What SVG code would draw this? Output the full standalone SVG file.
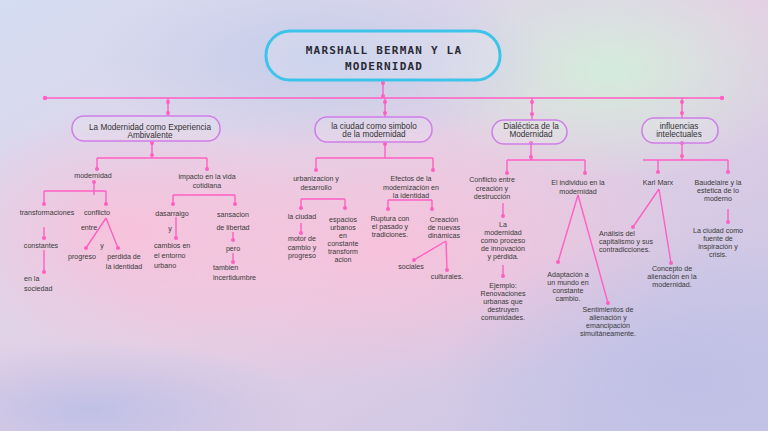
<svg xmlns="http://www.w3.org/2000/svg" width="768" height="431" viewBox="0 0 768 431">
<defs>
<linearGradient id="bg" x1="0" y1="0" x2="1" y2="1">
<stop offset="0" stop-color="#d4ddf2"/>
<stop offset="0.5" stop-color="#e4cfe4"/>
<stop offset="1" stop-color="#c3c4e6"/>
</linearGradient>
<radialGradient id="pink1" cx="0.5" cy="0.5" r="0.5">
<stop offset="0" stop-color="#f8c1db" stop-opacity="0.95"/>
<stop offset="1" stop-color="#f8c1db" stop-opacity="0"/>
</radialGradient>
<radialGradient id="mint" cx="0.5" cy="0.5" r="0.5">
<stop offset="0" stop-color="#d4ecdc" stop-opacity="1"/>
<stop offset="1" stop-color="#d4ecdc" stop-opacity="0"/>
</radialGradient>
<radialGradient id="blue" cx="0.5" cy="0.5" r="0.5">
<stop offset="0" stop-color="#c4cdea" stop-opacity="1"/>
<stop offset="1" stop-color="#c4cdea" stop-opacity="0"/>
</radialGradient>
<radialGradient id="lav" cx="0.5" cy="0.5" r="0.5">
<stop offset="0" stop-color="#bfc0e6" stop-opacity="1"/>
<stop offset="1" stop-color="#bfc0e6" stop-opacity="0"/>
</radialGradient>
<style>
.c{fill:none;stroke:#ff5fc2;stroke-width:1.4}
.d{fill:#ff5fc2}
.t{font-family:"Liberation Sans",Arial,sans-serif;font-size:7.1px;fill:#3a3a3a;text-anchor:middle}
.l{text-anchor:start}
.bt{font-family:"Liberation Sans",Arial,sans-serif;font-size:8.2px;fill:#333;text-anchor:middle}
.box{fill:#ffffff;fill-opacity:0.12;stroke:#cf7de8;stroke-width:1.5}
.title{font-family:"DejaVu Sans Mono",monospace;font-weight:bold;font-size:11px;letter-spacing:1.2px;fill:#2a2a35;text-anchor:middle}
</style>
</defs>
<rect width="768" height="431" fill="url(#bg)"/>
<ellipse cx="380" cy="250" rx="330" ry="140" fill="url(#pink1)"/>
<ellipse cx="130" cy="230" rx="200" ry="120" fill="url(#pink1)"/>
<ellipse cx="610" cy="70" rx="200" ry="110" fill="url(#mint)"/>
<ellipse cx="320" cy="60" rx="230" ry="90" fill="url(#blue)"/>
<ellipse cx="690" cy="380" rx="250" ry="150" fill="url(#lav)"/>
<ellipse cx="90" cy="410" rx="220" ry="70" fill="url(#lav)"/>

<g id="connectors">
<path class="c" d="M383,80V98M45,98H722M168,98V116M385,98V117M532,98V120M682,98V118"/>
<path class="c" d="M152,141V158M97,158H207M97,158V169M207,158V169M94,182V195M44,191H106M44,191V204M106,191V204M44,227V238M44,250V272M106,218L86,248M106,218L118,248M173,195H235M173,195V204M235,195V204M176,217V238M233,232V240M233,253V262"/>
<path class="c" d="M385,142V158M316,158H433M316,158V170M433,158V170M301,199H345M301,199V208M345,199V208M301,223V233M388,200H432M388,200V209M432,200V209M446,241L414,260M446,241L447,270"/>
<path class="c" d="M531,144V160M507,160H585M507,160V173M585,160V173M503,203V216M503,265V276M578,195L558,262M578,195L608,303"/>
<path class="c" d="M682,143V160M643,160H728M658,160V172M728,160V172M659,189L633,227M659,189L671,263M728,209V222"/>
<g class="d">
<circle cx="383" cy="83" r="2"/><circle cx="383" cy="96" r="2"/><circle cx="45" cy="98" r="2.2"/><circle cx="722" cy="98" r="2.2"/>
<circle cx="168" cy="102" r="2"/><circle cx="168" cy="113" r="2"/><circle cx="385" cy="102" r="2"/><circle cx="385" cy="113" r="2"/>
<circle cx="532" cy="102" r="2"/><circle cx="532" cy="114" r="2"/><circle cx="682" cy="102" r="2"/><circle cx="682" cy="113" r="2"/>
<circle cx="152" cy="143" r="2"/><circle cx="152" cy="155" r="2"/><circle cx="97" cy="169" r="2"/><circle cx="207" cy="169" r="2"/>
<circle cx="94" cy="182" r="2"/><circle cx="44" cy="204" r="2"/><circle cx="106" cy="204" r="2"/><circle cx="44" cy="238" r="2"/>
<circle cx="44" cy="272" r="2"/><circle cx="86" cy="248" r="2"/><circle cx="118" cy="248" r="2"/><circle cx="173" cy="204" r="2"/>
<circle cx="235" cy="204" r="2"/><circle cx="176" cy="238" r="2"/><circle cx="233" cy="240" r="2"/><circle cx="233" cy="262" r="2"/>
<circle cx="385" cy="144" r="2"/><circle cx="316" cy="170" r="2"/><circle cx="433" cy="170" r="2"/><circle cx="301" cy="208" r="2"/>
<circle cx="345" cy="208" r="2"/><circle cx="301" cy="233" r="2"/><circle cx="388" cy="209" r="2"/><circle cx="432" cy="209" r="2"/>
<circle cx="414" cy="260" r="2"/><circle cx="447" cy="270" r="2"/>
<circle cx="531" cy="143" r="2"/><circle cx="531" cy="157" r="2"/><circle cx="507" cy="173" r="2"/><circle cx="585" cy="173" r="2"/>
<circle cx="503" cy="216" r="2"/><circle cx="503" cy="276" r="2"/><circle cx="558" cy="262" r="2"/><circle cx="608" cy="303" r="2"/>
<circle cx="682" cy="143" r="2"/><circle cx="682" cy="156" r="2"/><circle cx="658" cy="172" r="2"/><circle cx="728" cy="172" r="2"/>
<circle cx="633" cy="227" r="2"/><circle cx="671" cy="263" r="2"/><circle cx="728" cy="222" r="2"/>
</g>
</g>

<g id="title">
<rect x="266" y="31" width="234" height="49" rx="24" fill="#ffffff" fill-opacity="0.15" stroke="#3ec4ea" stroke-width="3"/>
<text class="title" x="384" y="54">MARSHALL BERMAN Y LA</text>
<text class="title" x="384" y="70">MODERNIDAD</text>
</g>

<g id="n-modernidad-experiencia">
<rect class="box" x="72" y="116" width="148" height="25" rx="12"/>
<text class="bt" x="150" y="130">La Modernidad como Experiencia</text>
<text class="bt" x="150" y="138">Ambivalente</text>
</g>
<g id="n-ciudad-simbolo">
<rect class="box" x="315" y="117" width="117" height="25" rx="12"/>
<text class="bt" x="374" y="129">la ciudad como simbolo</text>
<text class="bt" x="374" y="137">de la modernidad</text>
</g>
<g id="n-dialectica">
<rect class="box" x="492" y="120" width="75" height="24" rx="12"/>
<text class="bt" x="531" y="129">Dialéctica de la</text>
<text class="bt" x="531" y="137">Modernidad</text>
</g>
<g id="n-influencias">
<rect class="box" x="642" y="118" width="76" height="25" rx="12"/>
<text class="bt" x="679" y="129">influencias</text>
<text class="bt" x="679" y="137">intelectuales</text>
</g>

<g id="n-modernidad"><text class="t" x="93" y="178">modernidad</text></g>
<g id="n-impacto"><text class="t" x="207" y="179">impacto en la vida</text><text class="t" x="207" y="188">cotidiana</text></g>
<g id="n-transformaciones"><text class="t" x="47" y="215">transformaciones</text></g>
<g id="n-conflicto"><text class="t" x="97" y="215">conflicto</text></g>
<g id="n-constantes"><text class="t" x="41" y="248">constantes</text></g>
<g id="n-sociedad"><text class="t l" x="24" y="281">en la</text><text class="t l" x="24" y="291">sociedad</text></g>
<g id="n-entre"><text class="t" x="89" y="230">entre</text></g>
<g id="n-y1"><text class="t" x="102" y="248">y</text></g>
<g id="n-progreso"><text class="t" x="82" y="259">progreso</text></g>
<g id="n-perdida"><text class="t" x="124" y="259">perdida de</text><text class="t" x="124" y="269">la identidad</text></g>
<g id="n-dasarraigo"><text class="t" x="172" y="216">dasarraigo</text></g>
<g id="n-sansacion"><text class="t" x="233" y="217">sansacion</text><text class="t" x="233" y="230">de libertad</text></g>
<g id="n-y2"><text class="t" x="170" y="231">y</text></g>
<g id="n-cambios"><text class="t l" x="154" y="248">cambios en</text><text class="t l" x="154" y="258">el entorno</text><text class="t l" x="154" y="268">urbano</text></g>
<g id="n-pero"><text class="t" x="233" y="251">pero</text></g>
<g id="n-incertidumbre"><text class="t l" x="213" y="270">tambien</text><text class="t l" x="213" y="280">incertidumbre</text></g>

<g id="n-urbanizacion"><text class="t" x="316" y="181">urbanizacion y</text><text class="t" x="316" y="189.5">desarrollo</text></g>
<g id="n-efectos"><text class="t" x="411" y="181">Efectos de la</text><text class="t" x="411" y="189.5">modernización en</text><text class="t" x="411" y="198">la identidad</text></g>
<g id="n-laciudad"><text class="t" x="302" y="219">la ciudad</text></g>
<g id="n-motor"><text class="t" x="302" y="241">motor de</text><text class="t" x="302" y="249.5">cambio y</text><text class="t" x="302" y="258">progreso</text></g>
<g id="n-espacios"><text class="t" x="343" y="222">espacios</text><text class="t" x="343" y="230">urbanos</text><text class="t" x="343" y="238">en</text><text class="t" x="343" y="246">constante</text><text class="t" x="343" y="254">transform</text><text class="t" x="343" y="262">acion</text></g>
<g id="n-ruptura"><text class="t" x="390" y="221">Ruptura con</text><text class="t" x="390" y="229">el pasado y</text><text class="t" x="390" y="237">tradiciones.</text></g>
<g id="n-creacion"><text class="t" x="444" y="222">Creación</text><text class="t" x="444" y="230">de nuevas</text><text class="t" x="444" y="238">dinámicas</text></g>
<g id="n-sociales"><text class="t" x="411" y="269">sociales</text></g>
<g id="n-culturales"><text class="t" x="447" y="279">culturales.</text></g>

<g id="n-conflicto-creacion"><text class="t" x="492" y="182">Conflicto entre</text><text class="t" x="492" y="190.5">creación y</text><text class="t" x="492" y="199">destrucción</text></g>
<g id="n-proceso"><text class="t" x="503" y="227">La</text><text class="t" x="503" y="235">modernidad</text><text class="t" x="503" y="243">como proceso</text><text class="t" x="503" y="251">de innovación</text><text class="t" x="503" y="259">y pérdida.</text></g>
<g id="n-ejemplo"><text class="t" x="503" y="288">Ejemplo:</text><text class="t" x="503" y="296">Renovaciones</text><text class="t" x="503" y="304">urbanas que</text><text class="t" x="503" y="312">destruyen</text><text class="t" x="503" y="320">comunidades.</text></g>
<g id="n-individuo"><text class="t" x="578" y="185">El individuo en la</text><text class="t" x="578" y="194">modernidad</text></g>
<g id="n-adaptacion"><text class="t" x="568" y="277">Adaptación a</text><text class="t" x="568" y="285">un mundo en</text><text class="t" x="568" y="293">constante</text><text class="t" x="568" y="301">cambio.</text></g>
<g id="n-sentimientos"><text class="t" x="608" y="312">Sentimientos de</text><text class="t" x="608" y="320">alienación y</text><text class="t" x="608" y="328">emancipación</text><text class="t" x="608" y="336">simultáneamente.</text></g>

<g id="n-marx"><text class="t" x="658" y="185">Karl Marx</text></g>
<g id="n-baudelaire"><text class="t" x="718" y="185">Baudelaire y la</text><text class="t" x="718" y="193">estetica de lo</text><text class="t" x="718" y="201">moderno</text></g>
<g id="n-analisis"><text class="t l" x="599" y="236">Análisis del</text><text class="t l" x="599" y="244">capitalismo y sus</text><text class="t l" x="599" y="252">contradicciones.</text></g>
<g id="n-concepto"><text class="t" x="672" y="271">Concepto de</text><text class="t" x="672" y="279">alienación en la</text><text class="t" x="672" y="287">modernidad.</text></g>
<g id="n-ciudad-fuente"><text class="t" x="718" y="233">La ciudad como</text><text class="t" x="718" y="241">fuente de</text><text class="t" x="718" y="249">inspiración y</text><text class="t" x="718" y="257">crisis.</text></g>
</svg>
